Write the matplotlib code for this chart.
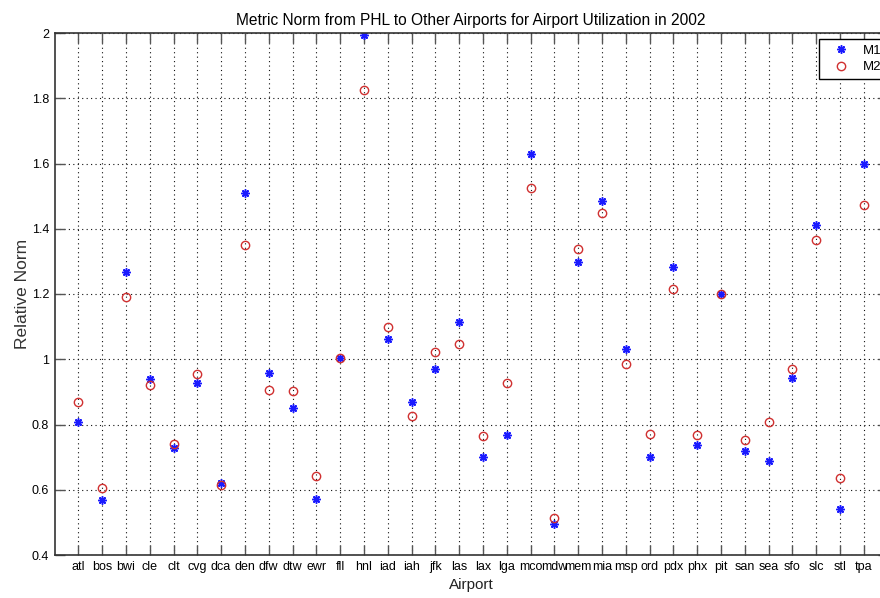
import matplotlib
matplotlib.use("Agg")
import matplotlib.pyplot as plt
import numpy as np

airports = ["atl", "bos", "bwi", "cle", "clt", "cvg", "dca", "den", "dfw", "dtw",
            "ewr", "fll", "hnl", "iad", "iah", "jfk", "las", "lax", "lga", "mco",
            "mdw", "mem", "mia", "msp", "ord", "pdx", "phx", "pit", "san", "sea",
            "sfo", "slc", "stl", "tpa"]

m1 = [0.808, 0.569, 1.268, 0.940, 0.729, 0.928, 0.621, 1.509, 0.958, 0.852,
      0.571, 1.005, 1.993, 1.063, 0.868, 0.971, 1.115, 0.699, 0.768, 1.630,
      0.494, 1.298, 1.484, 1.031, 0.699, 1.283, 0.736, 1.201, 0.720, 0.688,
      0.943, 1.412, 0.540, 1.600]

m2 = [0.868, 0.605, 1.192, 0.922, 0.741, 0.955, 0.616, 1.351, 0.906, 0.903,
      0.641, 1.003, 1.826, 1.100, 0.826, 1.022, 1.046, 0.764, 0.927, 1.526,
      0.514, 1.337, 1.448, 0.984, 0.771, 1.215, 0.767, 1.200, 0.753, 0.808,
      0.971, 1.364, 0.637, 1.474]

plt.rcParams["font.family"] = ["Liberation Sans", "DejaVu Sans"]

fig = plt.figure(figsize=(8.8, 5.98), dpi=100)
# axes run a little past the right edge of the figure
ax = fig.add_axes([54.5 / 880, 43 / 598, 833 / 880, 522 / 598])

x = np.arange(1, len(airports) + 1)
ax.plot(x, m1, linestyle="none", marker=(8, 2, 0), color="#1a1aff",
        markersize=6, markeredgewidth=1.1, label="M1")
ax.plot(x, m2, linestyle="none", marker="o", markerfacecolor="none",
        markeredgecolor="#d03030", markersize=6, markeredgewidth=1.0, label="M2")

ax.set_xlim(0, 35)
ax.set_ylim(0.4, 2.0)
ax.set_xticks(x)
ax.set_xticklabels(airports)
ax.set_yticks([0.4, 0.6, 0.8, 1.0, 1.2, 1.4, 1.6, 1.8, 2.0])
ax.set_yticklabels(["0.4", "0.6", "0.8", "1", "1.2", "1.4", "1.6", "1.8", "2"])

ax.grid(True, linestyle=(0, (1, 3)), color="#111111", linewidth=0.8)
ax.tick_params(direction="in", length=7, width=1, color="#555555",
               top=True, right=True, labelsize=9, pad=4)
for side in ["left", "bottom", "top", "right"]:
    ax.spines[side].set_linewidth(1.2)
    ax.spines[side].set_color("#333333")

ax.set_title("Metric Norm from PHL to Other Airports for Airport Utilization in 2002",
             fontsize=11.2, pad=6)
ax.set_xlabel("Airport", fontsize=11, labelpad=4, color="#222222")
ax.set_ylabel("Relative Norm", fontsize=12.5, labelpad=1, color="#333333")

leg = ax.legend(loc="upper left", bbox_to_anchor=(819 / 880, 1 - 39 / 598),
                bbox_transform=fig.transFigure, borderaxespad=0, fontsize=9.5,
                fancybox=False, framealpha=1, edgecolor="black",
                handlelength=2.6, handletextpad=0.3, labelspacing=0.35,
                borderpad=0.4)
leg.get_frame().set_linewidth(1.0)

fig.savefig("out.png", dpi=100)
